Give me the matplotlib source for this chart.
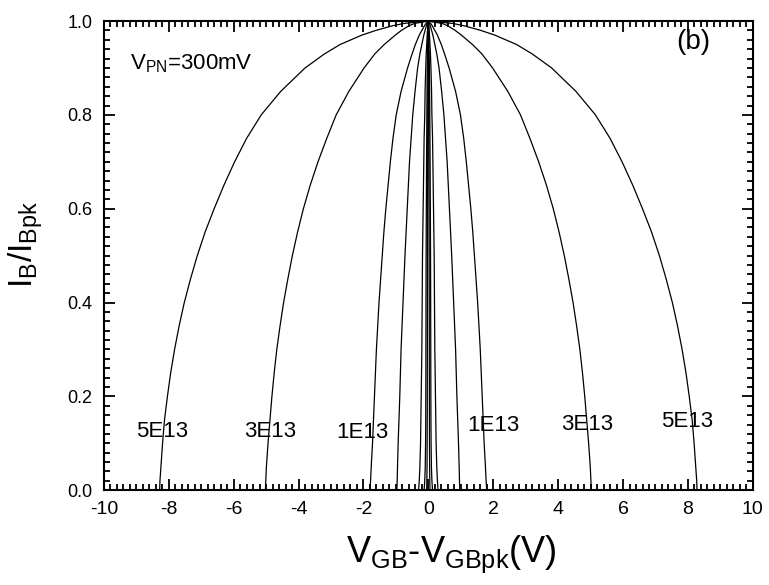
import numpy as np
import matplotlib.pyplot as plt
from matplotlib.ticker import MultipleLocator

plt.rcParams['font.family'] = ['Liberation Sans', 'DejaVu Sans']
plt.rcParams['mathtext.fontset'] = 'custom'
plt.rcParams['mathtext.rm'] = 'Liberation Sans'
plt.rcParams['mathtext.it'] = 'Liberation Sans'
plt.rcParams['axes.unicode_minus'] = False

# normalised body current levels at which the half-widths were taken
ib_levels = [0.0, 0.02, 0.05, 0.1, 0.15, 0.2, 0.25, 0.3, 0.35, 0.4, 0.45, 0.5,
             0.55, 0.6, 0.65, 0.7, 0.75, 0.8, 0.85, 0.9, 0.93, 0.95, 0.97,
             0.98, 0.99, 0.995, 1.0]

# |V_GB - V_GBpk| (V) at each level, one profile per doping (curves are symmetric)
dv_5e13 = [8.28, 8.27, 8.24, 8.19, 8.13, 8.04, 7.94, 7.82, 7.68, 7.52, 7.33, 7.12,
           6.88, 6.6, 6.3, 5.97, 5.6, 5.15, 4.55, 3.8, 3.2, 2.72, 2.05,
           1.62, 1.1, 0.75, 0.0]
dv_3e13 = [5.02, 5.01, 4.99, 4.94, 4.88, 4.82, 4.75, 4.67, 4.57, 4.46, 4.33, 4.19,
           4.03, 3.85, 3.64, 3.4, 3.13, 2.84, 2.45, 1.98, 1.65, 1.36, 1.02,
           0.83, 0.6, 0.42, 0.0]
dv_1e13 = [1.8, 1.78, 1.76, 1.72, 1.69, 1.66, 1.63, 1.6, 1.56, 1.52, 1.47, 1.42,
           1.37, 1.31, 1.24, 1.17, 1.09, 0.99, 0.84, 0.64, 0.5, 0.4, 0.28,
           0.2, 0.12, 0.07, 0.0]
dv_5e12 = [0.97, 0.96, 0.95, 0.93, 0.905, 0.88, 0.86, 0.84, 0.81, 0.78, 0.75, 0.72,
           0.685, 0.65, 0.615, 0.58, 0.53, 0.48, 0.41, 0.33, 0.26, 0.2, 0.14,
           0.1, 0.06, 0.035, 0.0]
dv_1e12 = [0.3, 0.28, 0.26, 0.24, 0.23, 0.22, 0.21, 0.2, 0.195, 0.19, 0.185, 0.18,
           0.17, 0.16, 0.15, 0.14, 0.13, 0.11, 0.1, 0.08, 0.065, 0.05, 0.035,
           0.025, 0.015, 0.008, 0.0]
dv_5e11 = [0.13, 0.11, 0.095, 0.085, 0.08, 0.078, 0.076, 0.075, 0.073, 0.072, 0.07, 0.068,
           0.065, 0.062, 0.058, 0.055, 0.05, 0.045, 0.04, 0.033, 0.026, 0.02, 0.014,
           0.01, 0.006, 0.003, 0.0]
dv_1e11 = [0.05, 0.045, 0.04, 0.036, 0.034, 0.032, 0.031, 0.03, 0.029, 0.028, 0.027, 0.026,
           0.025, 0.024, 0.022, 0.021, 0.02, 0.018, 0.016, 0.013, 0.01, 0.008, 0.006,
           0.004, 0.002, 0.001, 0.0]

profiles = [dv_5e13, dv_3e13, dv_1e13, dv_5e12, dv_1e12, dv_5e11, dv_1e11]

# curve labels: text, x, y
labels = [("5E13", -8.2, 0.125), ("3E13", -4.87, 0.125), ("1E13", -2.03, 0.122),
          ("1E13", 2.0, 0.137), ("3E13", 4.9, 0.14), ("5E13", 7.98, 0.147)]

fig = plt.figure(figsize=(7.69, 5.85), dpi=100)
ax = fig.add_axes([0.135, 0.162, 0.844, 0.802])

y = np.array(ib_levels)
for dv in profiles:
    dv = np.array(dv)
    xs = np.concatenate([-dv, dv[::-1]])
    ys = np.concatenate([y, y[::-1]])
    ax.plot(xs, ys, color='black', lw=0.9)

for txt, lx, ly in labels:
    ax.text(lx, ly, txt, fontsize=16, ha='center', va='center')

ax.text(-9.2, 0.91, r'V$_{\mathregular{PN}}$=300mV', fontsize=16, ha='left', va='center')
ax.text(8.7, 0.955, '(b)', fontsize=20, ha='right', va='center')

ax.set_xlim(-10, 10)
ax.set_ylim(0, 1.0)
ax.xaxis.set_major_locator(MultipleLocator(2))
ax.xaxis.set_minor_locator(MultipleLocator(0.2))
ax.yaxis.set_major_locator(MultipleLocator(0.2))
ax.yaxis.set_minor_locator(MultipleLocator(0.02))
ax.yaxis.set_major_formatter(plt.FuncFormatter(lambda v, p: f"{v:.1f}"))
ax.tick_params(which='both', direction='in', top=True, right=True, width=1.3)
ax.tick_params(axis='x', labelsize=14)
ax.tick_params(axis='y', labelsize=13)
ax.tick_params(which='major', length=8, pad=8)
ax.tick_params(which='minor', length=4)
for s in ax.spines.values():
    s.set_linewidth(1.5)

ax.set_xlabel(r'V$_{\mathregular{GB}}$-V$_{\mathregular{GBpk}}$(V)', fontsize=26)
ax.set_ylabel(r'I$_{\mathregular{B}}$/I$_{\mathregular{Bpk}}$', fontsize=24)
ax.xaxis.set_label_coords(0.536, -0.093)
ax.yaxis.set_label_coords(-0.09, 0.525)

fig.savefig('out.png', dpi=100)
